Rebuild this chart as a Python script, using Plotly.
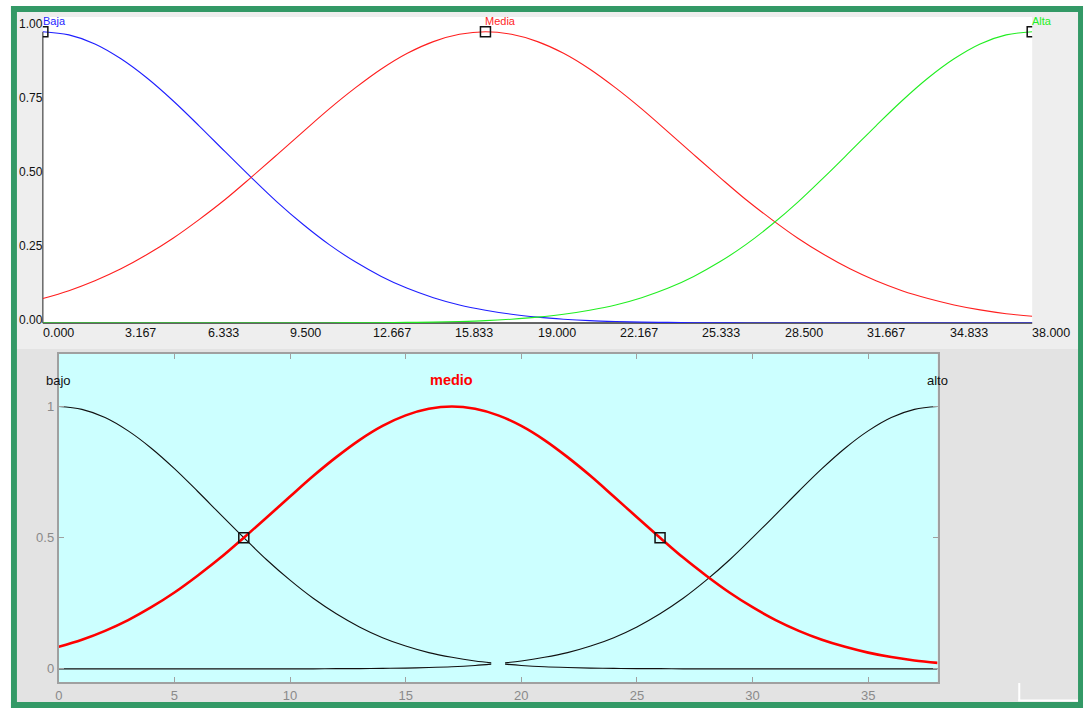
import plotly.graph_objects as go

W, H = 1086, 708

# ---- membership-function data ----
x_grid = list(range(0, 39))

baja = [1.000, 0.989, 0.958, 0.907, 0.841, 0.763, 0.677, 0.588, 0.500, 0.415,
        0.338, 0.269, 0.210, 0.160, 0.119, 0.087, 0.062, 0.044, 0.030, 0.020,
        0.013, 0.008, 0.005, 0.003, 0.002, 0.001, 0.001, 0.000, 0.000, 0.000,
        0.000, 0.000, 0.000, 0.000, 0.000, 0.000, 0.000, 0.000, 0.000]
media = [0.084, 0.111, 0.145, 0.186, 0.235, 0.291, 0.355, 0.424, 0.500, 0.578,
         0.657, 0.735, 0.807, 0.872, 0.926, 0.966, 0.991, 1.000, 0.991, 0.966,
         0.926, 0.872, 0.807, 0.735, 0.657, 0.578, 0.500, 0.424, 0.355, 0.291,
         0.235, 0.186, 0.145, 0.111, 0.084, 0.062, 0.045, 0.032, 0.023]
alta = [0.000, 0.000, 0.000, 0.000, 0.000, 0.000, 0.000, 0.000, 0.000, 0.000,
        0.000, 0.000, 0.001, 0.001, 0.002, 0.003, 0.005, 0.008, 0.013, 0.020,
        0.030, 0.044, 0.062, 0.087, 0.119, 0.160, 0.210, 0.269, 0.338, 0.415,
        0.500, 0.588, 0.677, 0.763, 0.841, 0.907, 0.958, 0.989, 1.000]

top_names = ["Baja", "Media", "Alta"]
top_peaks = [0, 17, 38]
top_colors = ["#1f1fff", "#ff1f1f", "#22ee22"]

# lower panel: the black curves are broken around the midpoint
x_black = list(range(0, 19)) + [18.7, None, 19.3] + list(range(20, 39))
bajo = baja[:19] + [0.023, None, 0.018] + baja[20:]
alto = alta[:19] + [0.018, None, 0.023] + alta[20:]
medio = media

bottom_names = ["bajo", "medio", "alto"]
bottom_peaks = [0, 17, 38]
medio_half_points_x = [8, 26]
medio_half_points_y = [0.5, 0.5]

top_xticks = [0.0, 3.167, 6.333, 9.5, 12.667, 15.833, 19.0, 22.167,
              25.333, 28.5, 31.667, 34.833, 38.0]
top_yticks = [0.0, 0.25, 0.5, 0.75, 1.0]
bottom_xticks = [0, 5, 10, 15, 20, 25, 30, 35]
bottom_yticks = [0, 0.5, 1]


def px(v):
    return v / W


def py(v):
    return 1 - v / H


fig = go.Figure()

# upper panel curves
for ys, c in zip([baja, media, alta], top_colors):
    fig.add_trace(go.Scatter(x=x_grid, y=ys, mode="lines", line=dict(color=c, width=1.1, shape="spline"),
                             xaxis="x", yaxis="y", hoverinfo="skip"))
fig.add_trace(go.Scatter(x=top_peaks, y=[1, 1, 1], mode="markers",
                         marker=dict(symbol="square-open", size=10, color="#111111", line=dict(width=1.5)),
                         xaxis="x", yaxis="y", hoverinfo="skip"))

# lower panel curves
fig.add_trace(go.Scatter(x=x_black, y=bajo, mode="lines", connectgaps=False,
                         line=dict(color="#111111", width=1.1, shape="spline"),
                         xaxis="x2", yaxis="y2", hoverinfo="skip"))
fig.add_trace(go.Scatter(x=x_black, y=alto, mode="lines", connectgaps=False,
                         line=dict(color="#111111", width=1.1, shape="spline"),
                         xaxis="x2", yaxis="y2", hoverinfo="skip"))
fig.add_trace(go.Scatter(x=x_grid, y=medio, mode="lines",
                         line=dict(color="#ff0000", width=2.6, shape="spline"),
                         xaxis="x2", yaxis="y2", hoverinfo="skip"))
fig.add_trace(go.Scatter(x=medio_half_points_x, y=medio_half_points_y, mode="markers",
                         marker=dict(symbol="square-open", size=10, color="#111111", line=dict(width=1.5)),
                         xaxis="x2", yaxis="y2", hoverinfo="skip"))

shapes = []
# panel backgrounds
shapes.append(dict(type="rect", xref="paper", yref="paper", x0=px(13), x1=px(1078), y0=py(349), y1=py(12),
                   fillcolor="#eeeeee", line=dict(width=0), layer="below"))
shapes.append(dict(type="rect", xref="paper", yref="paper", x0=px(13), x1=px(1078), y0=py(702), y1=py(349),
                   fillcolor="#e3e3e3", line=dict(width=0), layer="below"))
shapes.append(dict(type="rect", xref="x domain", yref="y domain", x0=0, x1=1, y0=0, y1=1,
                   fillcolor="#ffffff", line=dict(width=0), layer="below"))
shapes.append(dict(type="rect", xref="x2 domain", yref="y2 domain", x0=0, x1=1, y0=0, y1=1,
                   fillcolor="#ccffff", line=dict(width=0), layer="below"))
# upper panel axis lines
shapes.append(dict(type="line", xref="x domain", yref="y domain", x0=0, x1=1, y0=0, y1=0,
                   line=dict(color="#333333", width=1.5), layer="below"))
shapes.append(dict(type="line", xref="x domain", yref="y", x0=0, x1=0, y0=0, y1=1.0,
                   line=dict(color="#444444", width=1.2), layer="below"))
# green frame
frame = "#339966"
shapes.append(dict(type="rect", xref="paper", yref="paper", x0=px(7), x1=px(1083), y0=py(12), y1=py(6),
                   fillcolor=frame, line=dict(width=0)))
shapes.append(dict(type="rect", xref="paper", yref="paper", x0=px(7), x1=px(1083), y0=py(708), y1=py(702),
                   fillcolor=frame, line=dict(width=0)))
shapes.append(dict(type="rect", xref="paper", yref="paper", x0=px(7), x1=px(13), y0=py(708), y1=py(6),
                   fillcolor=frame, line=dict(width=0)))
shapes.append(dict(type="rect", xref="paper", yref="paper", x0=px(1078), x1=px(1083), y0=py(708), y1=py(6),
                   fillcolor=frame, line=dict(width=0)))
# small white corner mark
shapes.append(dict(type="line", xref="paper", yref="paper", x0=px(1019), x1=px(1019), y0=py(683), y1=py(701),
                   line=dict(color="#ffffff", width=2)))
shapes.append(dict(type="line", xref="paper", yref="paper", x0=px(1018), x1=px(1078), y0=py(700.5), y1=py(700.5),
                   line=dict(color="#ffffff", width=2)))

annotations = []
font_top = "Liberation Sans, Arial, sans-serif"
for t in top_xticks:
    annotations.append(dict(x=t, y=py(333), xref="x", yref="paper", text=f"{t:.3f}", showarrow=False,
                            xanchor="left", yanchor="middle", xshift=-2,
                            font=dict(family=font_top, size=12.5, color="#111111")))
for t in top_yticks:
    annotations.append(dict(x=0, y=t, xref="x", yref="y", text=f"{t:.2f}", showarrow=False,
                            xanchor="right", yanchor="middle", xshift=2, yshift=3 + 5 * t,
                            font=dict(family=font_top, size=12, color="#111111")))
for name, pk, c in zip(top_names, top_peaks, top_colors):
    annotations.append(dict(x=pk, y=1.038, xref="x", yref="y", text=name, showarrow=False,
                            xanchor="left", yanchor="middle", xshift=-2,
                            font=dict(family=font_top, size=11, color=c)))
for name, pk in zip(bottom_names, bottom_peaks):
    bold = name == "medio"
    annotations.append(dict(x=pk, y=1.1, xref="x2", yref="y2",
                            text=f"<b>{name}</b>" if bold else name, showarrow=False,
                            xanchor="center", yanchor="middle",
                            font=dict(family=font_top, size=14.5 if bold else 13,
                                      color="#ff0000" if bold else "#111111")))

fig.update_layout(
    width=W, height=H,
    margin=dict(l=0, r=0, t=0, b=0),
    paper_bgcolor="#ffffff",
    plot_bgcolor="rgba(0,0,0,0)",
    showlegend=False,
    shapes=shapes,
    annotations=annotations,
    xaxis=dict(domain=[px(39), px(1032)], range=[0, 38], showgrid=False, zeroline=False,
               showline=False, showticklabels=False, ticks="", fixedrange=True),
    yaxis=dict(domain=[py(323), py(17)], range=[0, 1.0505], showgrid=False, zeroline=False,
               showline=False, showticklabels=False, ticks="", fixedrange=True),
    xaxis2=dict(domain=[px(55), px(937)], range=[0, 38], anchor="y2", showgrid=False, zeroline=False,
                showline=True, linecolor="#a0a0a0", linewidth=2, mirror="ticks",
                ticks="inside", ticklen=5, tickwidth=1.2, tickcolor="#a0a0a0",
                tickvals=bottom_xticks, ticktext=[str(v) for v in bottom_xticks],
                tickfont=dict(family=font_top, size=13, color="#8a8a8a"), fixedrange=True),
    yaxis2=dict(domain=[py(682), py(354)], range=[-0.05, 1.2], anchor="x2", showgrid=False, zeroline=False,
                showline=True, linecolor="#a0a0a0", linewidth=2, mirror="ticks",
                ticks="inside", ticklen=5, tickwidth=1.2, tickcolor="#a0a0a0",
                tickvals=bottom_yticks, ticktext=["0", "0.5", "1"],
                tickfont=dict(family=font_top, size=13, color="#8a8a8a"), fixedrange=True),
)

fig.write_html("out.html")
